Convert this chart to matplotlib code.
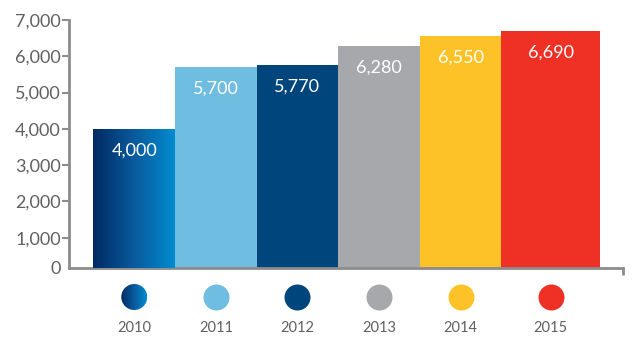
import numpy as np
import matplotlib
matplotlib.use('Agg')
import matplotlib.pyplot as plt
from matplotlib.colors import LinearSegmentedColormap
from matplotlib.patches import Circle

years = ['2010', '2011', '2012', '2013', '2014', '2015']
values = [4000, 5700, 5770, 6280, 6550, 6690]
colors = ['#0a4f8f', '#6fbde0', '#00457c', '#a6a8ab', '#fdc228', '#ee3124']
yticks = [1000, 2000, 3000, 4000, 5000, 6000, 7000]

# bar layout (last bar is drawn wider)
xpos = [0, 1, 2, 3, 4, 5.105]
widths = [1, 1, 1, 1, 1, 1.21]

grey = '#8c8c8e'
text_grey = '#5f6062'
plt.rcParams['font.family'] = ['Lato', 'DejaVu Sans']

W, H = 635, 341
ax_top, ax_bot = 20, 268
fig = plt.figure(figsize=(W / 100, H / 100), dpi=100)
ax = fig.add_axes([69 / W, (H - ax_bot) / H, (623 - 69) / W, (ax_bot - ax_top) / H])

# baseline sits a little above the true zero
ymin, ymax = 165, 7000

bars = ax.bar(xpos, values, width=widths, color=colors, linewidth=0, zorder=2)

# 2010 bar has a left-to-right blue gradient
grad = LinearSegmentedColormap.from_list('blue_grad', ['#002a63', '#0a5a9c', '#008ccf'])
ramp = np.linspace(0, 1, 256).reshape(1, -1)
b0 = bars[0]
img = ax.imshow(ramp, cmap=grad, aspect='auto',
                extent=[b0.get_x(), b0.get_x() + b0.get_width(), ymin, b0.get_height()],
                zorder=3)
img.set_clip_path(b0)

ax.set_xlim(-0.80, 5.99)
ax.set_ylim(ymin, ymax)
ax.set_yticks([ymin] + yticks)
ax.set_yticklabels(['0'] + ['{:,}'.format(v) for v in yticks], fontsize=13, color=text_grey)
ax.set_xticks([])

for s in ['top', 'right']:
    ax.spines[s].set_visible(False)
for s in ['left', 'bottom']:
    ax.spines[s].set_color(grey)
    ax.spines[s].set_linewidth(2)
ax.tick_params(axis='y', length=5, width=1.5, color=grey, pad=1)
ax.get_yticklines()[0].set_visible(False)

# small end tick on the right of the baseline
ax.plot([1, 1], [0, -0.028], transform=ax.transAxes, color=grey, lw=2,
        clip_on=False, solid_capstyle='butt')

# value labels inside bars
for x, v in zip(xpos, values):
    ax.text(x, v - 600, '{:,}'.format(v), ha='center', va='center', color='white',
            fontsize=13)

# legend dots and years under the axis
ax_h = ax_bot - ax_top
trans = ax.get_xaxis_transform()
dot_y = -(297 - ax_bot) / ax_h
year_y = -(328 - ax_bot) / ax_h
r_px = 13
for i, (x, yr, c) in enumerate(zip(xpos, years, colors)):
    if i == 0:
        # gradient dot lives in its own little axes
        cx, _ = ax.transData.transform((x, ymin))
        cy = H - 297
        dax = fig.add_axes([(cx - r_px) / W, (cy - r_px) / H, 2 * r_px / W, 2 * r_px / H])
        dax.set_axis_off()
        dim = dax.imshow(ramp, cmap=grad, aspect='auto', extent=[-1, 1, -1, 1])
        dax.set_xlim(-1, 1)
        dax.set_ylim(-1, 1)
        circ = Circle((0, 0), 1, transform=dax.transData, facecolor='none', edgecolor='none')
        dax.add_patch(circ)
        dim.set_clip_path(circ)
    else:
        ax.scatter([x], [dot_y], s=(2 * r_px * 0.72) ** 2, color=c, transform=trans,
                   clip_on=False, linewidths=0, zorder=3)
    ax.text(x, year_y, yr, transform=trans, ha='center', va='center',
            fontsize=10.5, color=text_grey)

fig.savefig('out.png', dpi=100)
